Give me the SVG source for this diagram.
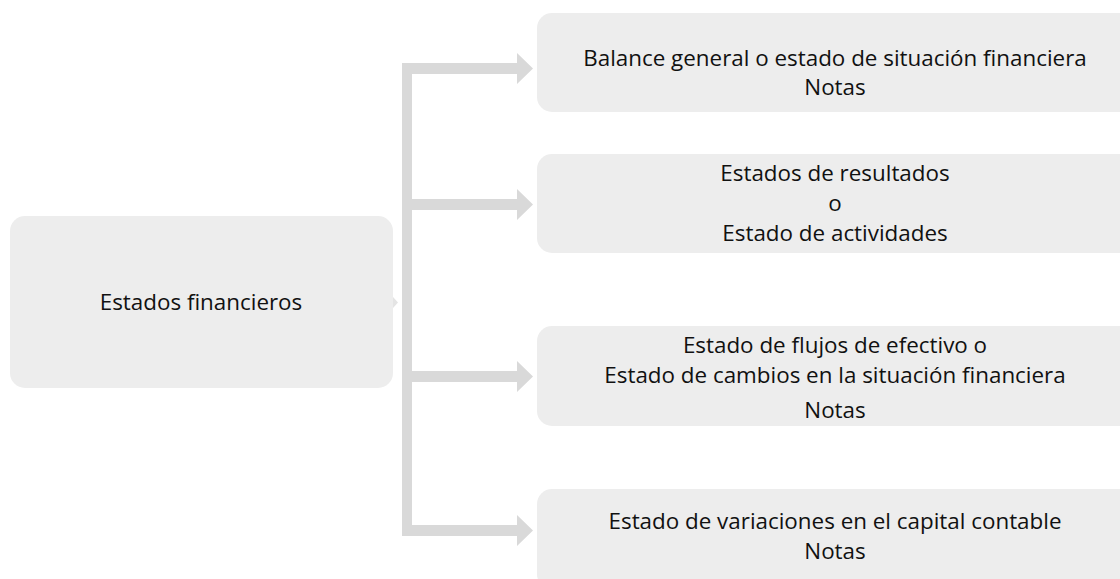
<svg xmlns="http://www.w3.org/2000/svg" width="1120" height="579" viewBox="0 0 1120 579">
<style>
.box{fill:#ededed}
.conn{fill:#d9d9d9}
text{font-family:"Open Sans","Noto Sans",sans-serif;font-size:22.4px;fill:#111;text-anchor:middle}
</style>
<rect width="1120" height="579" fill="#ffffff"/>
<g id="connectors">
<rect class="conn" x="402" y="63" width="10" height="473"/>
<polygon class="conn" points="402,63 517,63 517,53 533,68.5 517,84 517,74 402,74"/>
<polygon class="conn" points="402,199 517,199 517,189 533,204.5 517,220 517,210 402,210"/>
<polygon class="conn" points="402,371 517,371 517,361 533,376.5 517,392 517,382 402,382"/>
<polygon class="conn" points="402,525 517,525 517,515 533,530.5 517,546 517,536 402,536"/>
<polygon points="393,297 398,302.5 393,308" fill="#e4e4e4"/>
</g>
<g id="node-estados">
<rect class="box" x="10" y="216" width="383" height="172" rx="15"/>
<text x="201" y="310">Estados financieros</text>
</g>
<g id="node-balance">
<rect class="box" x="537" y="13" width="600" height="99" rx="15"/>
<text x="835" y="66">Balance general o estado de situación financiera</text>
<text x="835" y="95">Notas</text>
</g>
<g id="node-resultados">
<rect class="box" x="537" y="154" width="600" height="99" rx="15"/>
<text x="835" y="181">Estados de resultados</text>
<text x="835" y="211">o</text>
<text x="835" y="241">Estado de actividades</text>
</g>
<g id="node-flujos">
<rect class="box" x="537" y="326" width="600" height="100" rx="15"/>
<text x="835" y="353">Estado de flujos de efectivo o</text>
<text x="835" y="383">Estado de cambios en la situación financiera</text>
<text x="835" y="418">Notas</text>
</g>
<g id="node-variaciones">
<rect class="box" x="537" y="489" width="600" height="100" rx="15"/>
<text x="835" y="529">Estado de variaciones en el capital contable</text>
<text x="835" y="559">Notas</text>
</g>
</svg>
